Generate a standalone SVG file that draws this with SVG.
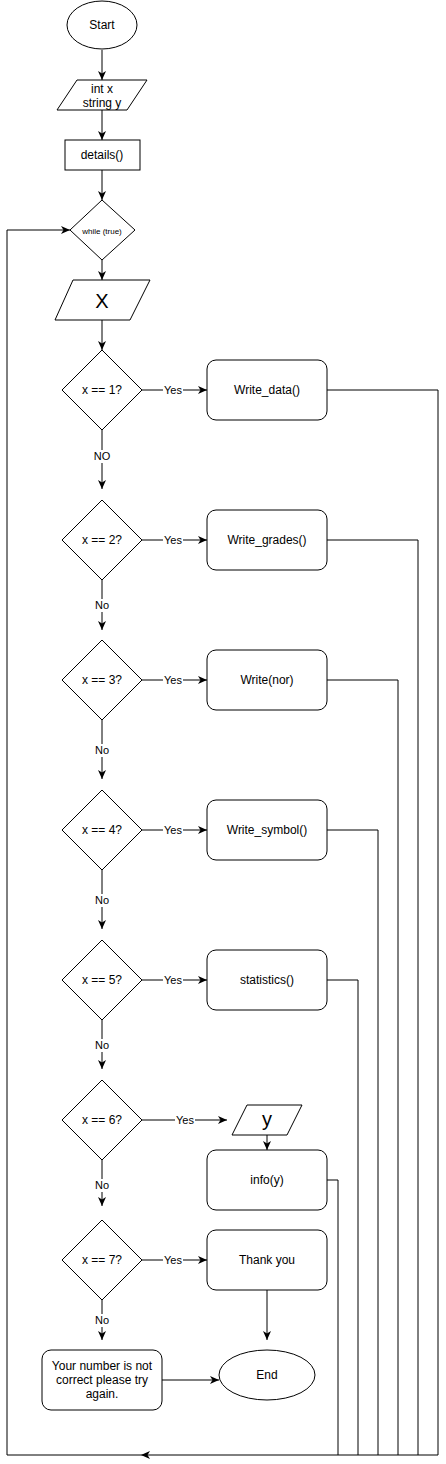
<svg xmlns="http://www.w3.org/2000/svg" width="446" height="1464" viewBox="0 0 446 1464">
<style>
.s{fill:#fff;stroke:#000;stroke-width:1}
.t{font-family:"Liberation Sans",Arial,sans-serif;font-size:12px;fill:#000;text-anchor:middle;dominant-baseline:central}
.l{font-family:"Liberation Sans",Arial,sans-serif;font-size:11px;fill:#000;text-anchor:middle;dominant-baseline:central}
.big{font-size:20px}
.e{fill:none;stroke:#000;stroke-width:1}
.a{marker-end:url(#arr)}
.bg{fill:#fff;stroke:none}
</style>
<defs>
<marker id="arr" markerWidth="10" markerHeight="10" refX="9" refY="4" orient="auto" markerUnits="userSpaceOnUse">
<path d="M0,0 L9,4 L0,8 L2.5,4 z" fill="#000"/>
</marker>
</defs>
<rect width="446" height="1464" fill="#fff"/>
<g id="connectors">
<path class="e a" d="M102,50 L102,80"/>
<path class="e a" d="M102,110 L102,140"/>
<path class="e a" d="M102,170 L102,200"/>
<path class="e a" d="M102,260 L102,280"/>
<path class="e a" d="M102,320 L102,350"/>
<path class="e a" d="M142,390 L207,390"/>
<path class="e a" d="M142,540 L207,540"/>
<path class="e a" d="M142,680 L207,680"/>
<path class="e a" d="M142,830 L207,830"/>
<path class="e a" d="M142,980 L207,980"/>
<path class="e a" d="M142,1120 L227,1120"/>
<path class="e a" d="M142,1260 L207,1260"/>
<path class="e a" d="M102,430 L102,489"/>
<path class="e a" d="M102,580 L102,630"/>
<path class="e a" d="M102,720 L102,779"/>
<path class="e a" d="M102,870 L102,929"/>
<path class="e a" d="M102,1020 L102,1069"/>
<path class="e a" d="M102,1160 L102,1206"/>
<path class="e a" d="M102,1300 L102,1340"/>
<path class="e a" d="M267,1135 L267,1150"/>
<path class="e a" d="M267,1290 L267,1340"/>
<path class="e a" d="M162,1380 L219,1380"/>
<path class="e" d="M327,390 L438,390 L438,1455"/>
<path class="e" d="M327,540 L418,540 L418,1455"/>
<path class="e" d="M327,680 L398,680 L398,1455"/>
<path class="e" d="M327,830 L378,830 L378,1455"/>
<path class="e" d="M327,980 L358,980 L358,1455"/>
<path class="e" d="M327,1180 L338,1180 L338,1455"/>
<path class="e a" d="M438,1455 L141,1455"/>
<path class="e a" d="M141,1455 L7,1455 L7,230 L70,230"/>
<g id="edge-labels">
<rect class="bg" x="163" y="383" width="20" height="13"/><text class="l" x="173" y="390">Yes</text>
<rect class="bg" x="163" y="533" width="20" height="13"/><text class="l" x="173" y="540">Yes</text>
<rect class="bg" x="163" y="673" width="20" height="13"/><text class="l" x="173" y="680">Yes</text>
<rect class="bg" x="163" y="823" width="20" height="13"/><text class="l" x="173" y="830">Yes</text>
<rect class="bg" x="163" y="973" width="20" height="13"/><text class="l" x="173" y="980">Yes</text>
<rect class="bg" x="175" y="1113" width="20" height="13"/><text class="l" x="185" y="1120">Yes</text>
<rect class="bg" x="163" y="1253" width="20" height="13"/><text class="l" x="173" y="1260">Yes</text>
<rect class="bg" x="92" y="450" width="20" height="13"/><text class="l" x="102" y="456">NO</text>
<rect class="bg" x="94" y="599" width="16" height="13"/><text class="l" x="102" y="605">No</text>
<rect class="bg" x="94" y="744" width="16" height="13"/><text class="l" x="102" y="750">No</text>
<rect class="bg" x="94" y="894" width="16" height="13"/><text class="l" x="102" y="900">No</text>
<rect class="bg" x="94" y="1039" width="16" height="13"/><text class="l" x="102" y="1045">No</text>
<rect class="bg" x="94" y="1179" width="16" height="13"/><text class="l" x="102" y="1185">No</text>
<rect class="bg" x="94" y="1314" width="16" height="13"/><text class="l" x="102" y="1320">No</text>
</g>
</g>
<g id="start"><ellipse class="s" cx="102" cy="25" rx="35" ry="24"/><text class="t" x="102" y="25">Start</text></g>
<g id="decl"><polygon class="s" points="77,80 147,80 127,110 57,110"/><text class="t" x="102" y="89">int x</text><text class="t" x="102" y="103">string y</text></g>
<g id="details"><rect class="s" x="65" y="140" width="75" height="30"/><text class="t" x="102" y="155">details()</text></g>
<g id="while"><polygon class="s" points="102,200 135,230 102,260 70,230"/><text class="t" x="102" y="231" style="font-size:8px">while (true)</text></g>
<g id="inputX"><polygon class="s" points="73,280 150,280 130,320 55,320"/><text class="t big" x="102" y="301">X</text></g>
<g id="d1"><polygon class="s" points="102,350 142,390 102,430 62,390"/><text class="t" x="102" y="390">x == 1?</text></g>
<g id="writeData"><rect class="s" x="207" y="360" width="120" height="60" rx="9"/><text class="t" x="267" y="390">Write_data()</text></g>
<g id="d2"><polygon class="s" points="102,500 142,540 102,580 62,540"/><text class="t" x="102" y="540">x == 2?</text></g>
<g id="writeGrades"><rect class="s" x="207" y="510" width="120" height="60" rx="9"/><text class="t" x="267" y="540">Write_grades()</text></g>
<g id="d3"><polygon class="s" points="102,640 142,680 102,720 62,680"/><text class="t" x="102" y="680">x == 3?</text></g>
<g id="writeNor"><rect class="s" x="207" y="650" width="120" height="60" rx="9"/><text class="t" x="267" y="680">Write(nor)</text></g>
<g id="d4"><polygon class="s" points="102,790 142,830 102,870 62,830"/><text class="t" x="102" y="830">x == 4?</text></g>
<g id="writeSymbol"><rect class="s" x="207" y="800" width="120" height="60" rx="9"/><text class="t" x="267" y="830">Write_symbol()</text></g>
<g id="d5"><polygon class="s" points="102,940 142,980 102,1020 62,980"/><text class="t" x="102" y="980">x == 5?</text></g>
<g id="statistics"><rect class="s" x="207" y="950" width="120" height="60" rx="9"/><text class="t" x="267" y="980">statistics()</text></g>
<g id="d6"><polygon class="s" points="102,1080 142,1120 102,1160 62,1120"/><text class="t" x="102" y="1120">x == 6?</text></g>
<g id="inputY"><polygon class="s" points="247,1105 302,1105 287,1135 232,1135"/><text class="t big" x="267" y="1119">y</text></g>
<g id="info"><rect class="s" x="207" y="1150" width="120" height="60" rx="9"/><text class="t" x="267" y="1180">info(y)</text></g>
<g id="d7"><polygon class="s" points="102,1220 142,1260 102,1300 62,1260"/><text class="t" x="102" y="1260">x == 7?</text></g>
<g id="thankYou"><rect class="s" x="207" y="1230" width="120" height="60" rx="9"/><text class="t" x="267" y="1260">Thank you</text></g>
<g id="wrong"><rect class="s" x="42" y="1350" width="120" height="60" rx="9"/><text class="t" x="102" y="1366">Your number is not</text><text class="t" x="102" y="1380">correct please try</text><text class="t" x="102" y="1394">again.</text></g>
<g id="end"><ellipse class="s" cx="267" cy="1375" rx="48" ry="25"/><text class="t" x="267" y="1375">End</text></g>
</svg>
